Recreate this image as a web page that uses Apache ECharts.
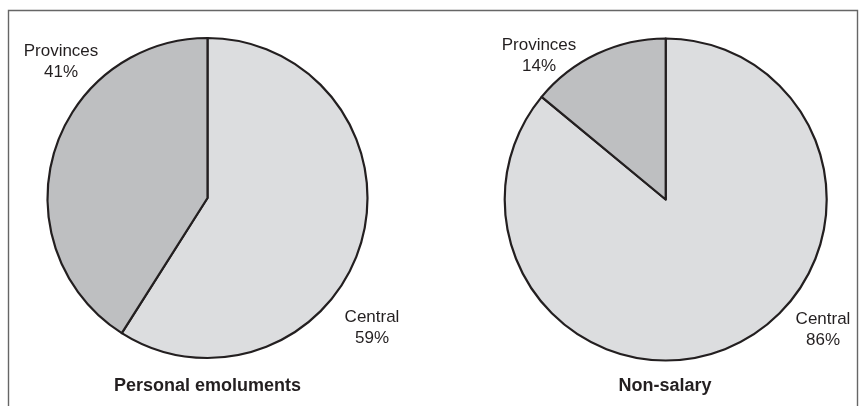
<!DOCTYPE html>
<html>
<head>
<meta charset="utf-8">
<script src="https://cdn.jsdelivr.net/npm/echarts@6/dist/echarts.min.js"></script>
<style>
  html, body { margin: 0; padding: 0; background: #fff; }
  #chart { width: 865px; height: 406px; }
</style>
</head>
<body>
<div id="chart"></div>
<script>
// 数据
var categories = ['Central', 'Provinces'];
var emolumentsValues = [59, 41];
var nonSalaryValues = [86, 14];
var pieTitles = ['Personal emoluments', 'Non-salary'];

var sliceColors = ['#dcdddf', '#bebfc1'];
var fontFamily = '"Liberation Sans", Arial, sans-serif';
var textColor = '#231f20';

// label anchor per pie / slice (centre of the two-line label)
var labelPos = [
  [[372, 328], [61, 62]],
  [[823, 330], [539, 56]]
];
var titlePos = [[207.5, 386], [665, 386]];

function toData(values) {
  return categories.map(function (name, i) {
    return { name: name, value: values[i], itemStyle: { color: sliceColors[i] } };
  });
}

function pieSeries(values, center, radius) {
  return {
    type: 'pie',
    center: center,
    radius: radius,
    startAngle: 90,
    clockwise: true,
    silent: true,
    animation: false,
    itemStyle: { borderColor: textColor, borderWidth: 2.2 },
    label: { show: false },
    labelLine: { show: false },
    emphasis: { disabled: true },
    data: toData(values)
  };
}

// 标签文字由数据算出
function sliceLabels(values, pieIdx) {
  var total = values.reduce(function (a, b) { return a + b; }, 0);
  return categories.map(function (name, i) {
    var pct = Math.round(values[i] / total * 100);
    return {
      type: 'text',
      x: labelPos[pieIdx][i][0],
      y: labelPos[pieIdx][i][1],
      silent: true,
      style: {
        text: name + '\n' + pct + '%',
        font: '17px ' + fontFamily,
        lineHeight: 21,
        fill: textColor,
        align: 'center',
        verticalAlign: 'middle'
      }
    };
  });
}

var graphics = [
  {
    type: 'rect',
    shape: { x: 8.5, y: 10.5, width: 849, height: 410 },
    style: { fill: 'none', stroke: '#666', lineWidth: 1.4 },
    silent: true
  }
];
pieTitles.forEach(function (t, i) {
  graphics.push({
    type: 'text',
    x: titlePos[i][0],
    y: titlePos[i][1],
    silent: true,
    style: { text: t, font: 'bold 18px ' + fontFamily, fill: textColor, align: 'center', verticalAlign: 'middle' }
  });
});
graphics = graphics.concat(sliceLabels(emolumentsValues, 0), sliceLabels(nonSalaryValues, 1));

var chart = echarts.init(document.getElementById('chart'));
chart.setOption({
  backgroundColor: '#fff',
  animation: false,
  graphic: graphics,
  series: [
    pieSeries(emolumentsValues, [207.5, 198], 160),
    pieSeries(nonSalaryValues, [665.7, 199.5], 161)
  ]
});
</script>
</body>
</html>
